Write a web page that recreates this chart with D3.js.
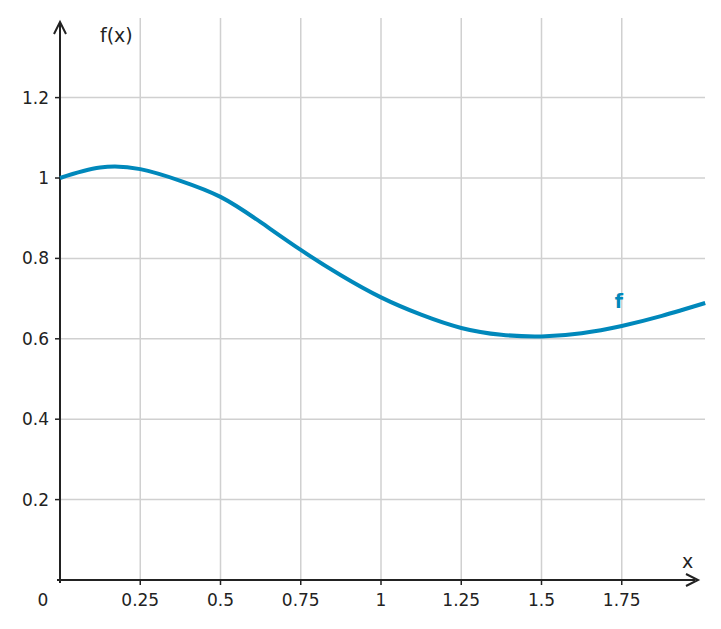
<!DOCTYPE html>
<html><head><meta charset="utf-8">
<script src="https://cdn.jsdelivr.net/npm/d3@7"></script>
<style>body{margin:0;background:#fff}text{font-family:"DejaVu Sans",sans-serif;}</style>
</head><body><svg id="c" width="721" height="629"></svg>
<script>
const xs = [0,0.125,0.25,0.375,0.5,0.625,0.75,0.875,1,1.125,1.25,1.375,1.5,1.625,1.75,1.875,2.01];
const ys = [1.0,1.026,1.022,0.993,0.953,0.89,0.821,0.758,0.703,0.66,0.627,0.61,0.606,0.614,0.632,0.657,0.689];
const xTicks = [0.25,0.5,0.75,1,1.25,1.5,1.75];
const xTickLabels = ["0.25","0.5","0.75","1","1.25","1.5","1.75"];
const yTicks = [0.2,0.4,0.6,0.8,1,1.2];
const yTickLabels = ["0.2","0.4","0.6","0.8","1","1.2"];
const svg = d3.select("#c");
const x = d3.scaleLinear().domain([0,2]).range([60,702]);
const y = d3.scaleLinear().domain([0,1]).range([580,178]);
const g = svg.append("g");
xTicks.forEach(t=>g.append("line").attr("x1",x(t)).attr("x2",x(t)).attr("y1",18).attr("y2",580).attr("stroke","#d0d0d0").attr("stroke-width",1.5));
yTicks.forEach(t=>g.append("line").attr("x1",60).attr("x2",705).attr("y1",y(t)).attr("y2",y(t)).attr("stroke","#d0d0d0").attr("stroke-width",1.5));
const ax="#222";
g.append("line").attr("x1",60).attr("x2",60).attr("y1",583).attr("y2",24).attr("stroke",ax).attr("stroke-width",2);
g.append("line").attr("x1",57).attr("x2",695).attr("y1",580).attr("y2",580).attr("stroke",ax).attr("stroke-width",2);
g.append("path").attr("d","M54,34 L60,22 L66,34").attr("fill","none").attr("stroke",ax).attr("stroke-width",2);
g.append("path").attr("d","M686,574 L698,580 L686,586").attr("fill","none").attr("stroke",ax).attr("stroke-width",2);
xTicks.forEach((t,i)=>{
 g.append("line").attr("x1",x(t)).attr("x2",x(t)).attr("y1",580).attr("y2",585).attr("stroke",ax).attr("stroke-width",1.5);
 g.append("text").attr("x",x(t)).attr("y",606).attr("text-anchor","middle").attr("font-size",17).attr("fill","#222").text(xTickLabels[i]);
});
yTicks.forEach((t,i)=>{
 g.append("line").attr("x1",55).attr("x2",60).attr("y1",y(t)).attr("y2",y(t)).attr("stroke",ax).attr("stroke-width",1.5);
 g.append("text").attr("x",49).attr("y",y(t)+6).attr("text-anchor","end").attr("font-size",17).attr("fill","#222").text(yTickLabels[i]);
});
g.append("text").attr("x",43).attr("y",606).attr("text-anchor","middle").attr("font-size",17).attr("fill","#222").text("0");
g.append("text").attr("x",100).attr("y",42).attr("font-size",19).attr("fill","#222").text("f(x)");
g.append("text").attr("x",682).attr("y",568).attr("font-size",19).attr("fill","#222").text("x");
const line = d3.line().x(d=>x(d[0])).y(d=>y(d[1])).curve(d3.curveNatural);
g.append("path").datum(xs.map((v,i)=>[v,ys[i]])).attr("d",line).attr("fill","none").attr("stroke","#0088bb").attr("stroke-width",4);
g.append("text").attr("x",619).attr("y",308).attr("text-anchor","middle").attr("font-size",19).attr("font-weight","bold").attr("fill","#0088bb").text("f");
</script></body></html>
